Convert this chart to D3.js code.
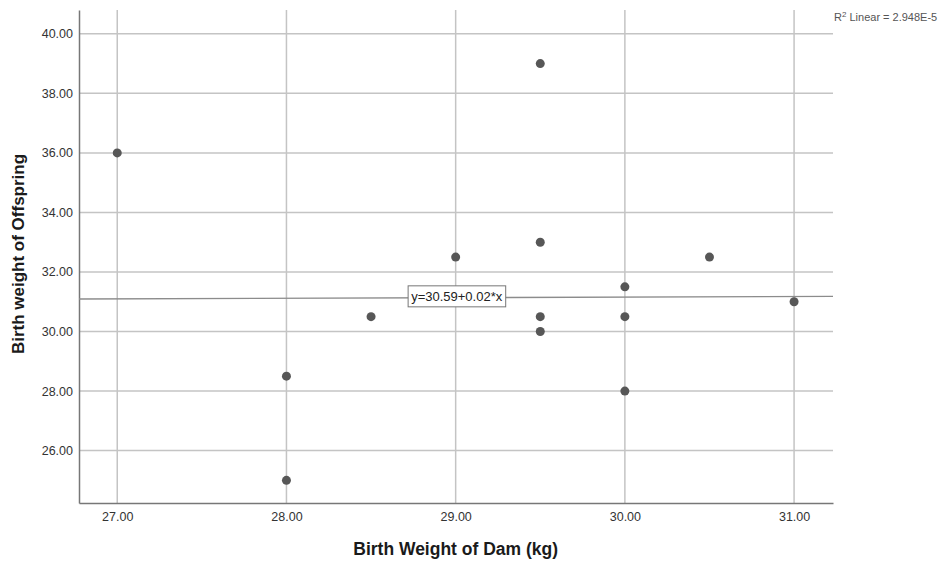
<!DOCTYPE html>
<html>
<head>
<meta charset="utf-8">
<script src="https://cdn.jsdelivr.net/npm/d3@7"></script>
<style>
  body { margin: 0; background: #fff; }
  svg { display: block; font-family: "Liberation Sans", Arial, sans-serif; }
</style>
</head>
<body>
<div id="chart"></div>
<script>
// data
var damWeight = [27, 28, 28, 28.5, 29, 29.5, 29.5, 29.5, 29.5, 30, 30, 30, 30.5, 31];
var offspringWeight = [36, 28.5, 25, 30.5, 32.5, 39, 33, 30.5, 30, 31.5, 30.5, 28, 32.5, 31];
var xTicks = [27, 28, 29, 30, 31];
var yTicks = [26, 28, 30, 32, 34, 36, 38, 40];
var fitIntercept = 30.59;
var fitSlope = 0.02;
var fitLabel = "y=30.59+0.02*x";
var r2Label = "2.948E-5";

var width = 951, height = 561;
var plot = { left: 79, right: 833, top: 10, bottom: 503 };

var x = d3.scaleLinear().domain([26.774, 31.23]).range([plot.left, plot.right]);
var y = d3.scaleLinear().domain([24.24, 40.8]).range([plot.bottom, plot.top]);

var svg = d3.select("#chart").append("svg")
  .attr("width", width)
  .attr("height", height);

// grid
svg.append("g")
  .selectAll("line")
  .data(xTicks)
  .join("line")
  .attr("x1", d => x(d)).attr("x2", d => x(d))
  .attr("y1", plot.top).attr("y2", plot.bottom)
  .attr("stroke", "#c4c4c4").attr("stroke-width", 1.5);

svg.append("g")
  .selectAll("line")
  .data(yTicks)
  .join("line")
  .attr("x1", plot.left).attr("x2", plot.right)
  .attr("y1", d => y(d)).attr("y2", d => y(d))
  .attr("stroke", "#c4c4c4").attr("stroke-width", 1.5);

// axes
var xAxis = svg.append("g")
  .attr("transform", "translate(0," + plot.bottom + ")")
  .call(d3.axisBottom(x).tickValues(xTicks).tickFormat(d3.format(".2f")).tickSize(0).tickPadding(9));
var yAxis = svg.append("g")
  .attr("transform", "translate(" + plot.left + ",0)")
  .call(d3.axisLeft(y).tickValues(yTicks).tickFormat(d3.format(".2f")).tickSize(0).tickPadding(6));

[xAxis, yAxis].forEach(function(a) {
  a.select(".domain").attr("stroke", "#777").attr("stroke-width", 1.5);
  a.selectAll("text").attr("fill", "#333").style("font-size", "12.5px").style("font-family", "Liberation Sans, Arial, sans-serif");
});

// fit line
svg.append("line")
  .attr("x1", x.range()[0]).attr("x2", x.range()[1])
  .attr("y1", y(fitIntercept + fitSlope * x.domain()[0]) + 1)
  .attr("y2", y(fitIntercept + fitSlope * x.domain()[1]) + 1)
  .attr("stroke", "#8c8c8c").attr("stroke-width", 1.3);

// points
svg.append("g")
  .selectAll("circle")
  .data(damWeight)
  .join("circle")
  .attr("cx", d => x(d))
  .attr("cy", (d, i) => y(offspringWeight[i]))
  .attr("r", 4.5)
  .attr("fill", "#575757");

// equation label
var eq = svg.append("g").attr("transform", "translate(" + (x(29) + 1) + "," + (y(31.15) - 1) + ")");
var eqText = eq.append("text")
  .attr("text-anchor", "middle").attr("dy", "0.35em")
  .style("font-size", "13px").attr("fill", "#222")
  .text(fitLabel);
var bb = eqText.node().getBBox();
eq.insert("rect", "text")
  .attr("x", bb.x - 3).attr("y", bb.y - 3)
  .attr("width", bb.width + 6).attr("height", bb.height + 6)
  .attr("fill", "#fff").attr("stroke", "#777").attr("stroke-width", 1);

// R² label
var r2 = svg.append("text")
  .attr("x", plot.right + 1).attr("y", 21)
  .style("font-size", "11px").attr("fill", "#555");
r2.append("tspan").text("R");
r2.append("tspan").attr("dy", -4).style("font-size", "8px").text("2");
r2.append("tspan").attr("dy", 4).text(" Linear = " + r2Label);

// axis titles
svg.append("text")
  .attr("x", x(29)).attr("y", 555)
  .attr("text-anchor", "middle")
  .style("font-size", "17.5px").style("font-weight", "bold").attr("fill", "#1a1a1a")
  .text("Birth Weight of Dam (kg)");

svg.append("text")
  .attr("transform", "translate(24," + 254 + ") rotate(-90)")
  .attr("text-anchor", "middle")
  .style("font-size", "17px").style("font-weight", "bold").attr("fill", "#1a1a1a")
  .text("Birth weight of Offspring");
</script>
</body>
</html>
